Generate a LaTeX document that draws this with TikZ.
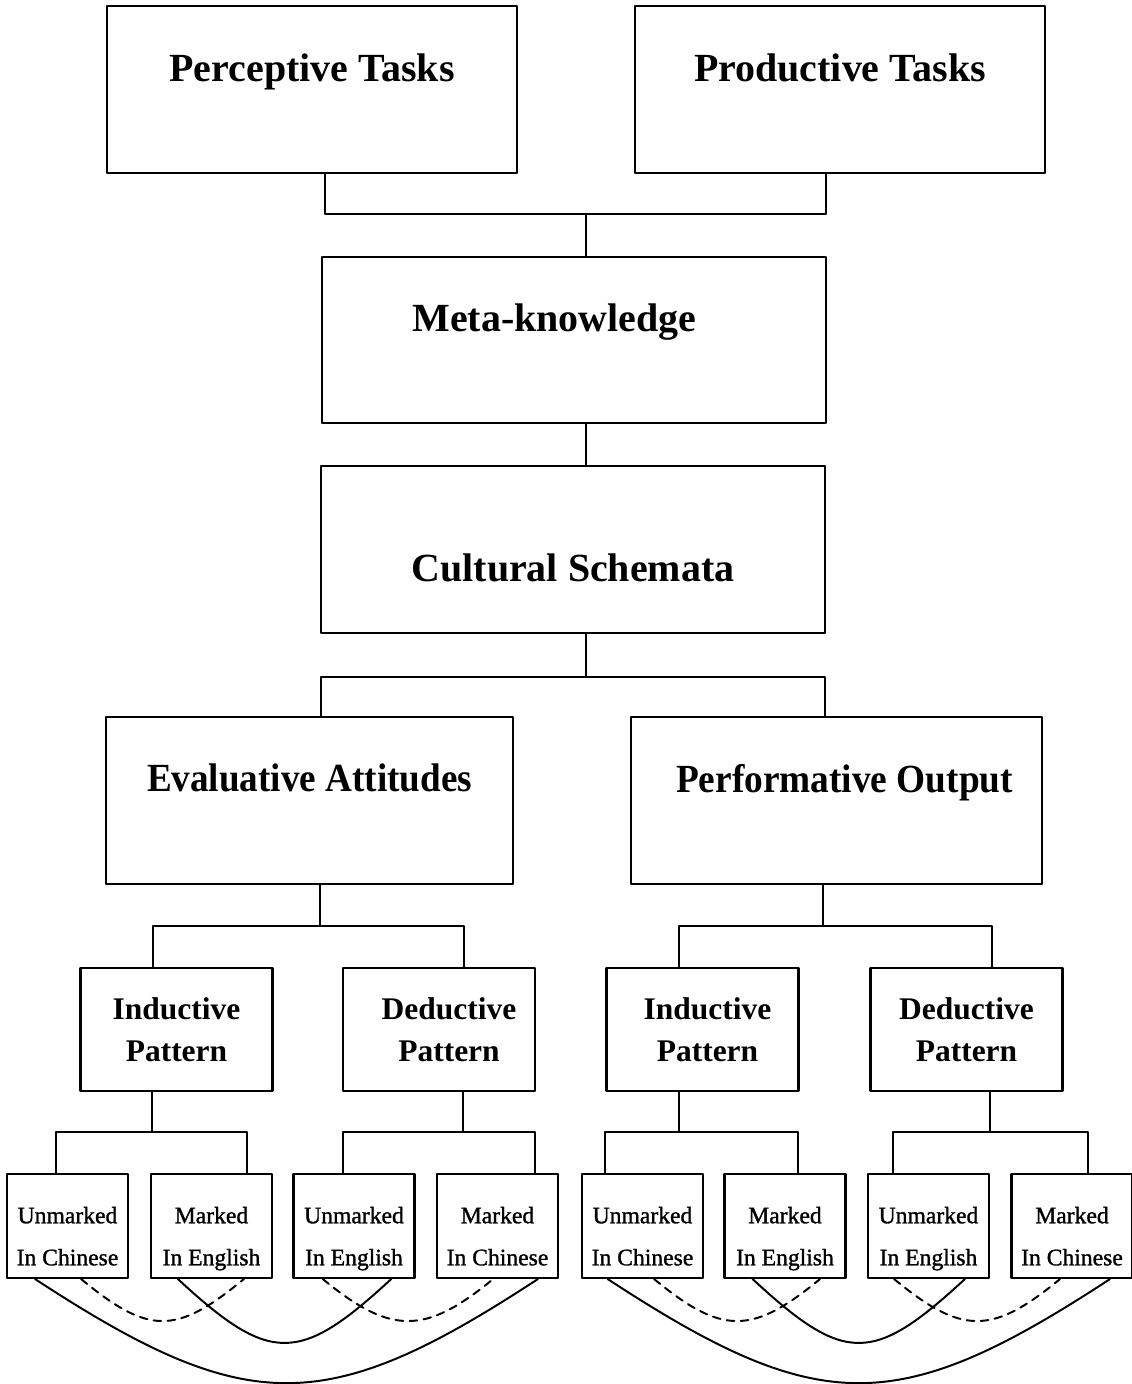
\documentclass[tikz,border=0pt]{standalone}
\usepackage{fontspec}
\setmainfont{Liberation Serif}
\newfontfamily\leaffont[FakeBold=1.2]{Liberation Serif}
\newcommand{\lf}[2]{\rule{0pt}{30pt}#1\\#2\rule[-4pt]{0pt}{4pt}}

\begin{document}
\begin{tikzpicture}[line cap=round,line join=round,
  box/.style={draw,line width=1.5pt,inner sep=0pt},
  bigbox/.style={box,minimum height=4.175cm},
  ttl/.style={font=\fontsize{28.4}{34}\selectfont\bfseries,text depth=0pt},
  midbox/.style={box,minimum width=4.8cm,minimum height=3.075cm,align=center,
    font=\fontsize{22.4}{29.9}\selectfont\bfseries},
  leaf/.style={box,minimum width=3.025cm,minimum height=2.6cm,align=center,
    font=\fontsize{16.8}{29.9}\leaffont},
  wire/.style={line width=1.5pt},
  link/.style={line width=1.4pt},
  dashlink/.style={link,dash pattern=on 5.5pt off 4.5pt}]
  \useasboundingbox (0,0) rectangle (28.275,34.6);

  % upper boxes
  \node[bigbox,minimum width=10.25cm,label={[ttl,yshift=.54cm]center:Perceptive Tasks}] (per) at (7.8,32.3625) {};
  \node[bigbox,minimum width=10.25cm,label={[ttl,yshift=.54cm]center:Productive Tasks}] (pro) at (21.0,32.3625) {};
  \node[bigbox,minimum width=12.6cm,minimum height=4.15cm,label={[ttl,xshift=-.49cm,yshift=.55cm]center:Meta-knowledge}] (meta) at (14.35,26.1) {};
  \node[bigbox,minimum width=12.6cm,label={[ttl,yshift=-.46cm]center:Cultural Schemata}] (cult) at (14.325,20.8625) {};
  \node[bigbox,minimum width=10.175cm,label={[ttl,yshift=.56cm]center:\scalebox{.93}[1]{Evaluative Attitudes}}] (eva) at (7.7375,14.5875) {};
  \node[bigbox,minimum width=10.275cm,label={[ttl,xshift=.2cm,yshift=.56cm]center:\scalebox{.935}[1]{Performative Output}}] (perf) at (20.9125,14.5875) {};

  % patterns
  \node[midbox] (ind1) at (4.4125,8.8625) {Inductive\\Pattern};
  \node[midbox] (ded1) at (10.975,8.8625) {\hspace*{.5cm}Deductive\\\hspace*{.5cm}Pattern};
  \node[midbox] (ind2) at (17.5625,8.8625) {\hspace*{.25cm}Inductive\\\hspace*{.25cm}Pattern};
  \node[midbox] (ded2) at (24.1625,8.8625) {Deductive\\Pattern};

  % leaves
  \node[leaf] (l1) at (1.6875,3.95) {\lf{Unmarked}{In Chinese}};
  \node[leaf] (l2) at (5.2875,3.95) {\lf{Marked}{In English}};
  \node[leaf] (l3) at (8.85,3.95) {\lf{Unmarked}{In English}};
  \node[leaf] (l4) at (12.4375,3.95) {\lf{Marked}{In Chinese}};
  \node[leaf] (l5) at (16.0625,3.95) {\lf{Unmarked}{In Chinese}};
  \node[leaf] (l6) at (19.625,3.95) {\lf{Marked}{In English}};
  \node[leaf] (l7) at (23.2125,3.95) {\lf{Unmarked}{In English}};
  \node[leaf] (l8) at (26.8,3.95) {\lf{Marked}{In Chinese}};

  % tree lines
  \draw[wire] ([xshift=.33cm]per.south) |- ([xshift=-.35cm]pro.south |- 0,29.25) -- ([xshift=-.35cm]pro.south);
  \draw[wire] ([xshift=.3cm]meta.north) -- ([xshift=.3cm]meta.north |- 0,29.25);
  \draw[wire] ([xshift=.3cm]meta.south) -- ([xshift=.3cm]meta.south |- cult.north);
  \foreach \p/\dp/\a/\da/\b/\db/\y in {cult/.33/eva/.29/perf/-.29/17.675,
      eva/.26/ind1/-.59/ded1/.63/11.45, perf/-.34/ind2/-.59/ded2/.64/11.45,
      ind1/-.61/l1/-.29/l2/.89/6.3, ded1/.6/l3/-.275/l4/.94/6.3,
      ind2/-.59/l5/-.94/l6/.325/6.3, ded2/.59/l7/-.89/l8/.4/6.3}{
    \draw[wire] ([xshift=\dp cm]\p.south) -- ([xshift=\dp cm]\p.south |- 0,\y);
    \draw[wire] ([xshift=\da cm]\a.north) |- ([xshift=\db cm]\b.north |- 0,\y) -- ([xshift=\db cm]\b.north);
  }

  % curves under the leaves
  \foreach \s/\ds/\e/\de/\h/\c/\sty in {l1/-.81/l4/1.01/5.3/3.47/link, l2/-.84/l3/.93/2.3/2.13/link,
      l1/.34/l2/.81/1.7/1.4/dashlink, l3/-.78/l4/-.11/1.7/1.4/dashlink,
      l5/-.87/l8/.95/5.3/3.47/link, l6/-.81/l7/.91/2.3/2.13/link,
      l5/.29/l6/.875/1.7/1.4/dashlink, l7/-.86/l8/-.3/1.7/1.4/dashlink}{
    \draw[\sty] ([xshift=\ds cm]\s.south) .. controls +(\h,-\c) and +(-\h,-\c) .. ([xshift=\de cm]\e.south);
  }
\end{tikzpicture}
\end{document}
